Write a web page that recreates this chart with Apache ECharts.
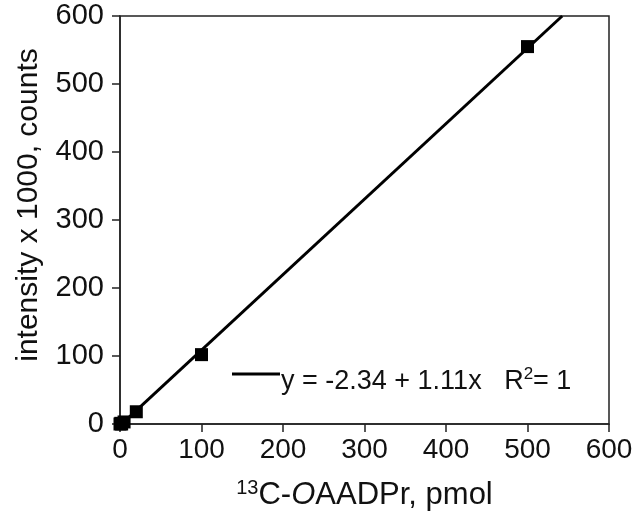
<!DOCTYPE html>
<html>
<head>
<meta charset="utf-8">
<script src="https://cdn.jsdelivr.net/npm/echarts@6/dist/echarts.min.js"></script>
<style>
  html, body { margin: 0; padding: 0; background: #fff; }
  #chart { width: 637px; height: 522px; }
</style>
</head>
<body>
<div id="chart"></div>
<script>
// measured standards (pmol vs intensity x 1000)
const amounts     = [0, 1, 2, 5, 20, 100, 500];
const intensities = [0, 1, 0, 3, 18, 102, 555];
// fitted line end points, y = -2.34 + 1.11x
const fitX = [0, 542.6];
const fitY = [-2.34, 600];
const xTicks = [0, 100, 200, 300, 400, 500, 600];
const yTicks = [0, 100, 200, 300, 400, 500, 600];

const FONT = 'Liberation Sans, Arial, sans-serif';
const INK = '#000';
const TXT = '#111';
const AXIS = '#222';

const chart = echarts.init(document.getElementById('chart'), null, { renderer: 'canvas' });

const axisCommon = {
  type: 'value',
  min: 0,
  max: 600,
  interval: 100,
  axisLine: { show: true, lineStyle: { color: AXIS, width: 1.5 } },
  axisTick: { show: true, inside: false, length: 8, lineStyle: { color: AXIS, width: 1.5 } },
  splitLine: { show: false },
};

chart.setOption({
  backgroundColor: '#fff',
  animation: false,
  grid: {
    left: 120, right: 28, top: 16, bottom: 98,
    outerBoundsMode: 'none',
    show: true, borderColor: AXIS, borderWidth: 1.5,
  },
  // fit legend: short line sample plus equation
  graphic: [
    {
      type: 'line',
      shape: { x1: 232, y1: 374, x2: 280, y2: 374 },
      style: { stroke: INK, lineWidth: 3 },
    },
    {
      type: 'text',
      left: 281, top: 366,
      style: {
        text: '{a|y = -2.34 + 1.11x   R}{s|2}{a|= 1}',
        rich: {
          a: { fontFamily: FONT, fontSize: 27, fill: TXT },
          s: { fontFamily: FONT, fontSize: 17, fill: TXT, verticalAlign: 'top', padding: [0, 0, 14, 0] },
        },
      },
    },
  ],
  xAxis: {
    ...axisCommon,
    name: '{sup|13}{t|C-}{i|O}{t|AADPr, pmol}',
    nameLocation: 'middle',
    nameGap: 54,
    nameTextStyle: {
      rich: {
        t: { fontFamily: FONT, fontSize: 31, color: TXT },
        i: { fontFamily: FONT, fontSize: 31, color: TXT, fontStyle: 'italic' },
        sup: { fontFamily: FONT, fontSize: 20, color: TXT, verticalAlign: 'top', padding: [0, 0, 14, 0] },
      },
    },
    axisLabel: {
      margin: 12, fontFamily: FONT, fontSize: 28, color: TXT,
      customValues: xTicks,
    },
  },
  yAxis: {
    ...axisCommon,
    name: 'intensity x 1000, counts',
    nameLocation: 'middle',
    nameGap: 76,
    nameTextStyle: { fontFamily: FONT, fontSize: 30, color: TXT, padding: [0, 0, 0, 30] },
    axisLabel: {
      margin: 16, fontFamily: FONT, fontSize: 29, color: TXT,
      customValues: yTicks,
    },
  },
  series: [
    {
      name: 'fit',
      type: 'line',
      data: fitX.map((x, i) => [x, fitY[i]]),
      showSymbol: false,
      symbol: 'none',
      clip: true,
      lineStyle: { color: INK, width: 3 },
      z: 2,
    },
    {
      name: 'data',
      type: 'scatter',
      data: amounts.map((x, i) => [x, intensities[i]]),
      symbol: 'rect',
      symbolSize: 13,
      itemStyle: { color: INK, opacity: 1 },
      clip: false,
      z: 3,
    },
  ],
});
</script>
</body>
</html>
